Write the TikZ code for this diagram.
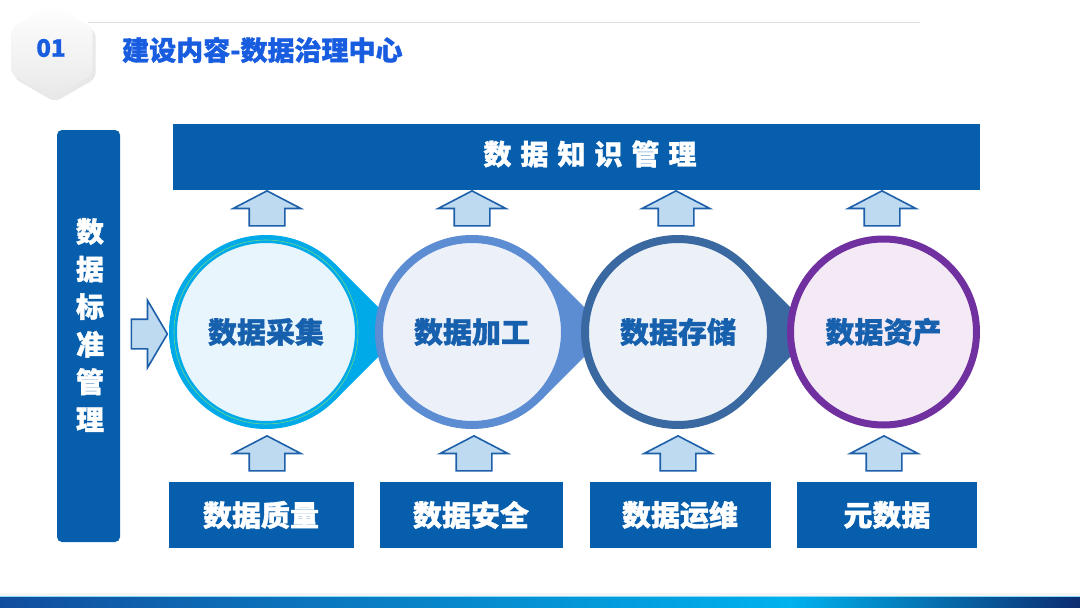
\documentclass[tikz,border=0pt]{standalone}
\usepackage{fontspec}
\newfontfamily\cjk[BoldFeatures={FakeBold=1.2}]{Noto Sans CJK SC}
\usetikzlibrary{positioning,shapes.arrows,shapes.geometric,backgrounds,shadows}
\definecolor{BoxBlue}{RGB}{6,94,172}
\definecolor{TitleBlue}{RGB}{24,92,224}
\definecolor{ArrowFill}{RGB}{190,218,240}
\definecolor{ArrowLine}{RGB}{30,95,170}
\definecolor{StageText}{RGB}{22,96,174}
\definecolor{RingA}{RGB}{0,170,232}
\definecolor{FillA}{RGB}{232,245,252}
\definecolor{RingB}{RGB}{92,140,210}
\definecolor{FillB}{RGB}{236,240,249}
\definecolor{RingC}{RGB}{58,104,160}
\definecolor{FillC}{RGB}{236,241,248}
\definecolor{RingD}{RGB}{112,48,160}
\definecolor{FillD}{RGB}{243,234,246}
\definecolor{FootDark}{RGB}{18,78,158}
\definecolor{FootCyan}{RGB}{0,178,238}
\definecolor{FootNavy}{RGB}{12,44,112}

\begin{document}
\begin{tikzpicture}[x=1pt,y=-1pt,
box/.style={rectangle,fill=BoxBlue,text=white,inner sep=0pt,
font=\cjk\bfseries\fontsize{29}{29}\selectfont},
stage/.style={circle,inner sep=0pt,minimum size=186pt,line width=8pt,text=StageText,
font=\cjk\bfseries\fontsize{29}{29}\selectfont},
uparrow/.style={single arrow,rotate=90,draw=ArrowLine,fill=ArrowFill,line width=1.6pt,
inner xsep=0pt,inner ysep=17pt,single arrow head extend=16pt,single arrow tip angle=125,
minimum height=35pt},
inarrow/.style={single arrow,draw=ArrowLine,fill=ArrowFill,line width=1.6pt,
inner xsep=0pt,inner ysep=14pt,single arrow head extend=19pt,single arrow tip angle=119,
minimum height=36pt}
]
\useasboundingbox (0,0) rectangle (1080,608);

% header
\draw[black!12,line width=1pt] (88,22) -- (920,22);
\node[regular polygon,regular polygon sides=6,shape border rotate=90,minimum size=94pt,
top color=white,bottom color=black!9,rounded corners=6pt,
drop shadow={opacity=0.18,shadow xshift=3pt,shadow yshift=-4pt}] (hex) at (52,51) {};
\node[text=TitleBlue,font=\cjk\bfseries\fontsize{24}{24}\selectfont] (num) at (51,48) {01};
\node[anchor=west,inner sep=0pt,text=TitleBlue,font=\cjk\bfseries\fontsize{27}{27}\selectfont]
(title) at (122,50) {建设内容-数据治理中心};

% bars
\node[box,minimum width=807pt,minimum height=66pt] (know) at (576.5,157) {};
\node[text=white,inner sep=0pt,font=\cjk\bfseries\fontsize{28}{28}\selectfont] (knowtext) at (590,154)
{数\hspace{9pt}据\hspace{9pt}知\hspace{9pt}识\hspace{9pt}管\hspace{9pt}理};
\node[box,rounded corners=5pt,minimum width=63pt,minimum height=412pt] (std) at (88.5,336) {};
\node[text=white,align=center,font=\cjk\bfseries\fontsize{28}{37.6}\selectfont] (stdtext) at (90,325)
{数\\据\\标\\准\\管\\理};
\node[inarrow] (in) at (145,334) {};

% stages
\node[stage,draw=RingA,fill=FillA] (s1) at (266,332) {数据采集};
\node[stage,draw=RingB,fill=FillB,right=12pt of s1] (s2) {数据加工};
\node[stage,draw=RingC,fill=FillC,right=12pt of s2] (s3) {数据存储};
\node[stage,draw=RingD,fill=FillD,line width=7pt,right=12pt of s3] (s4) {数据资产};
\draw[green!50!teal!60,line width=0.6pt] (s1) circle (92pt);
\begin{scope}[on background layer]
\fill[RingA] (s1.center) -- (s1.45) -- ([xshift=137pt]s1.center) -- (s1.-45) -- cycle;
\fill[RingB] (s2.center) -- (s2.45) -- ([xshift=137pt]s2.center) -- (s2.-45) -- cycle;
\fill[RingC] (s3.center) -- (s3.45) -- ([xshift=137pt]s3.center) -- (s3.-45) -- cycle;
\end{scope}

% arrows up to the top bar
\node[uparrow] (u1) at (267,213) {};
\node[uparrow] (u2) at (472,213) {};
\node[uparrow] (u3) at (676,213) {};
\node[uparrow] (u4) at (882,213) {};

% bottom boxes and arrows
\node[box,minimum width=185pt,minimum height=66pt] (q1) at (261,515) {数据质量};
\node[box,minimum width=183pt,minimum height=66pt] (q2) at (471,515) {数据安全};
\node[box,minimum width=181pt,minimum height=66pt] (q3) at (680,515) {数据运维};
\node[box,minimum width=180pt,minimum height=66pt] (q4) at (887,515) {元数据};
\node[uparrow] (d1) at (267,458) {};
\node[uparrow] (d2) at (474,458) {};
\node[uparrow] (d3) at (678,458) {};
\node[uparrow] (d4) at (884,458) {};

% footer
\fill[black!4] (0,593) rectangle (1080,596);
\draw[FootCyan!45,line width=1pt] (0,596.5) -- (1080,596.5);
\shade[left color=FootDark,right color=FootCyan] (0,597) rectangle (790,608);
\shade[left color=FootCyan,right color=FootNavy] (790,597) rectangle (1080,608);
\end{tikzpicture}
\end{document}
